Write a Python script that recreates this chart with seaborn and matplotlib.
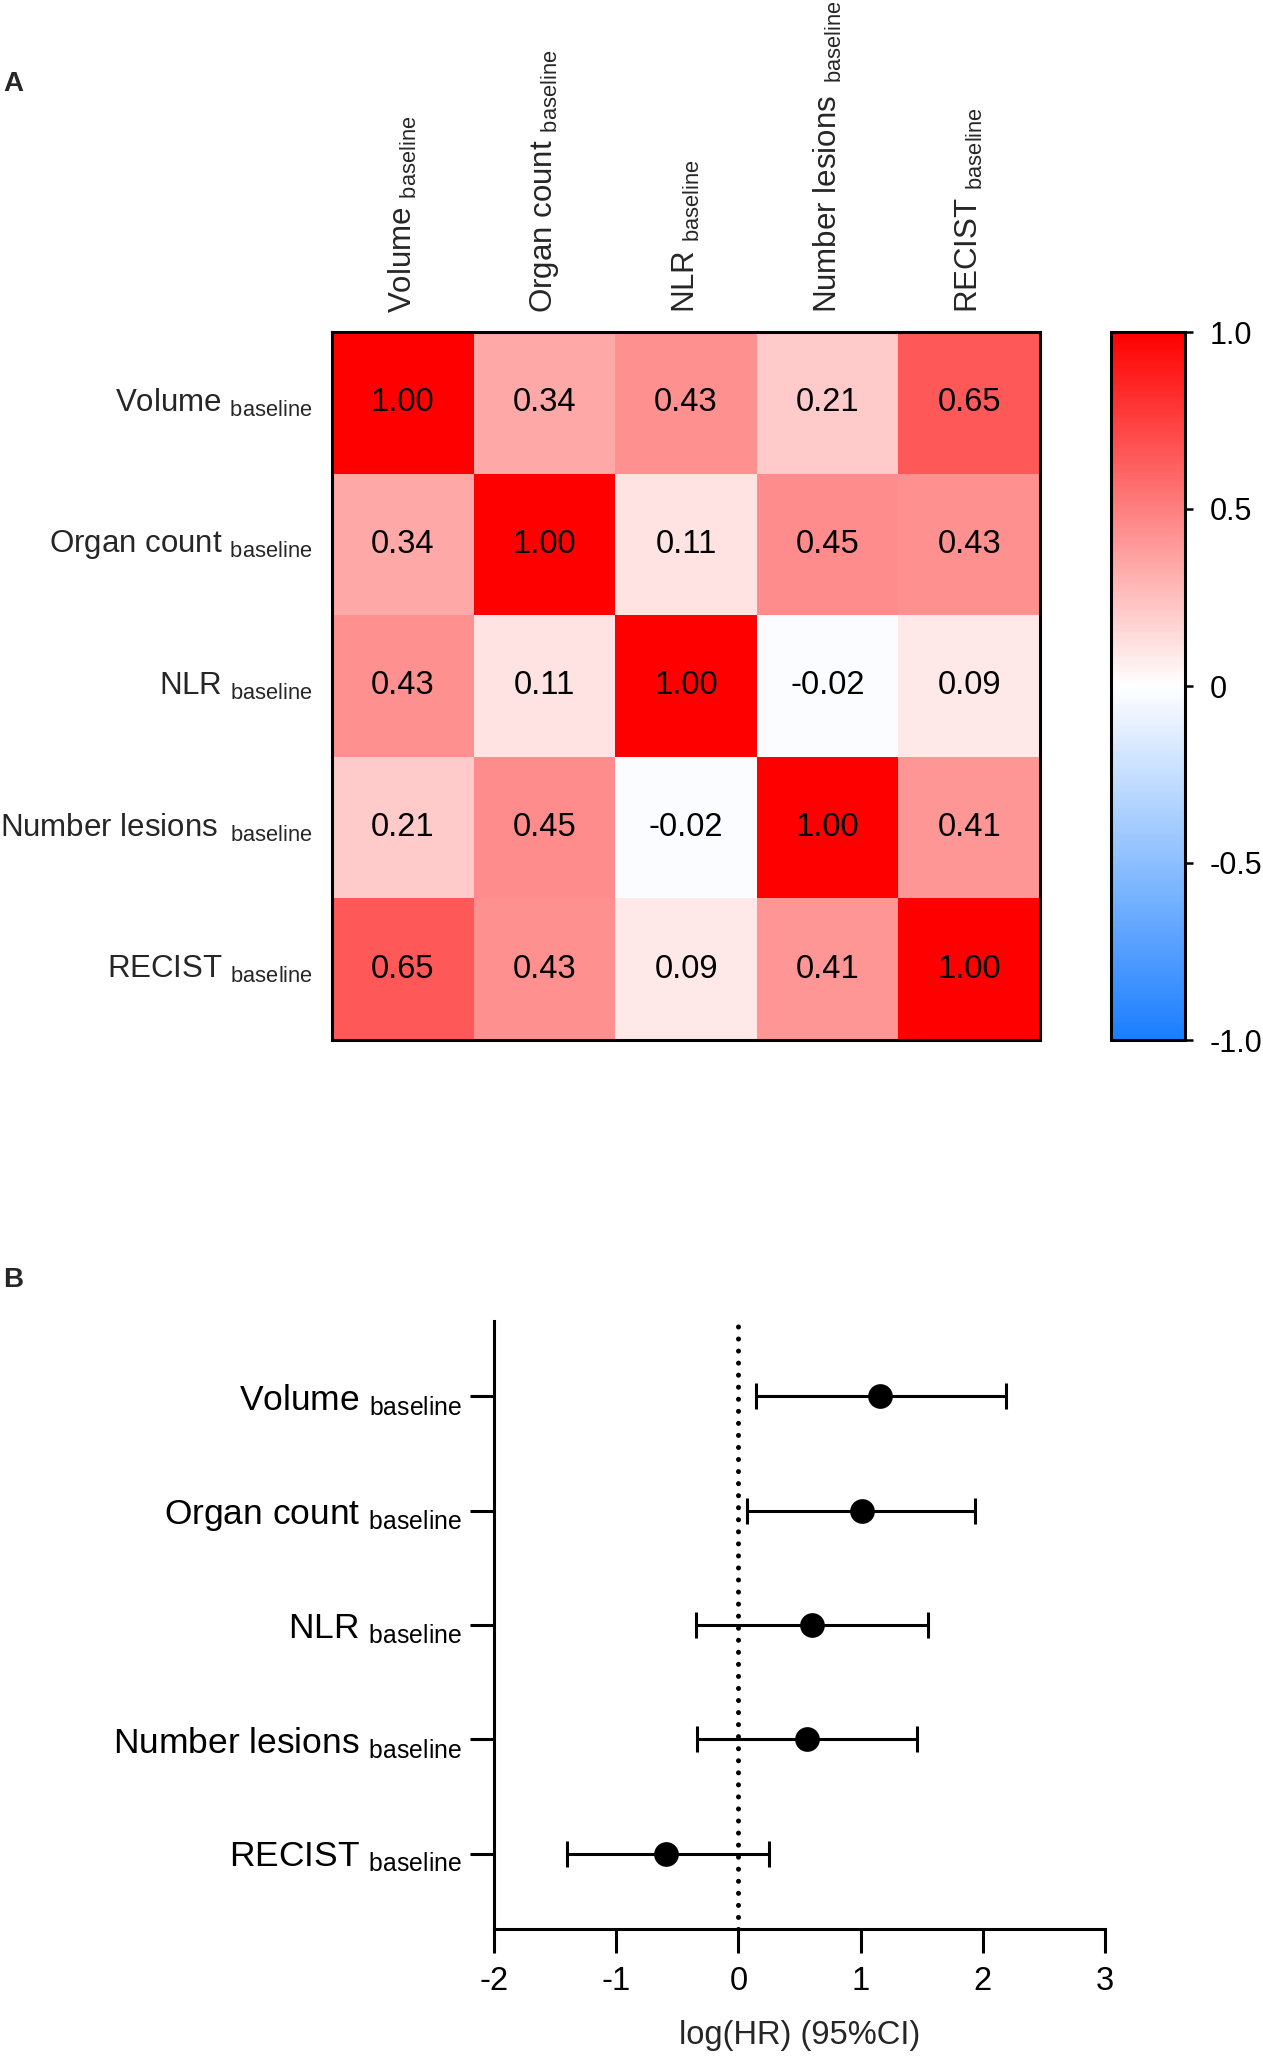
import numpy as np
import pandas as pd
import matplotlib
matplotlib.use("Agg")
import matplotlib.pyplot as plt
from matplotlib.colors import LinearSegmentedColormap
import seaborn as sns

# ---------------- data ----------------
row_names = ["Volume", "Organ count", "NLR", "Number lesions", "RECIST"]
corr_row_volume = [1.00, 0.34, 0.43, 0.21, 0.65]
corr_row_organ = [0.34, 1.00, 0.11, 0.45, 0.43]
corr_row_nlr = [0.43, 0.11, 1.00, -0.02, 0.09]
corr_row_lesions = [0.21, 0.45, -0.02, 1.00, 0.41]
corr_row_recist = [0.65, 0.43, 0.09, 0.41, 1.00]

cbar_ticks = [-1.0, -0.5, 0.0, 0.5, 1.0]
cbar_ticklabels = ["-1.0", "-0.5", "0", "0.5", "1.0"]

forest_names = ["Volume", "Organ count", "NLR", "Number lesions", "RECIST"]
log_hr = [1.16, 1.01, 0.60, 0.56, -0.59]
ci_low = [0.14, 0.07, -0.35, -0.34, -1.40]
ci_high = [2.19, 1.94, 1.55, 1.46, 0.25]
x_ticks = [-2, -1, 0, 1, 2, 3]
x_label = "log(HR) (95%CI)"

# ---------------- style ----------------
sns.set_theme(style="white")
plt.rcParams["font.family"] = ["Liberation Sans", "DejaVu Sans"]
plt.rcParams["mathtext.fontset"] = "custom"
plt.rcParams["mathtext.rm"] = "Liberation Sans"
plt.rcParams["mathtext.it"] = "Liberation Sans:italic"
plt.rcParams["mathtext.bf"] = "Liberation Sans:bold"
plt.rcParams["axes.unicode_minus"] = False

W, H = 1263, 2056
fig = plt.figure(figsize=(W / 100, H / 100), dpi=100)


def box(x0, y0, x1, y1):
    return [x0 / W, 1 - y1 / H, (x1 - x0) / W, (y1 - y0) / H]


def sub_label(name, wide=False):
    gap = r" $\,$" if wide else " "
    return name + gap + r"$_{\mathrm{baseline}}$"


# ---------------- panel A: heatmap ----------------
corr = pd.DataFrame(
    [corr_row_volume, corr_row_organ, corr_row_nlr, corr_row_lesions, corr_row_recist],
    index=row_names, columns=row_names)

cmap = LinearSegmentedColormap.from_list(
    "bwr_custom", ["#1A7EFF", "#FFFFFF", "#FF0000"])

ax = fig.add_axes(box(332, 332, 1040, 1040))
cax = fig.add_axes(box(1111, 332, 1185, 1040))

labels = [sub_label(n, wide=(n == "Number lesions")) for n in row_names]

sns.heatmap(corr, ax=ax, cbar_ax=cax, cmap=cmap, vmin=-1, vmax=1,
            annot=True, fmt=".2f",
            annot_kws={"fontsize": 23.5, "color": "black"},
            xticklabels=labels, yticklabels=labels)

for sp in ax.spines.values():
    sp.set_visible(True)
    sp.set_linewidth(2.2)
    sp.set_color("black")

ax.xaxis.tick_top()
ax.tick_params(axis="both", length=0)
ax.tick_params(axis="y", pad=14)
ax.tick_params(axis="x", pad=14)
plt.setp(ax.get_yticklabels(), rotation=0, fontsize=22.5, ha="right", va="center")
plt.setp(ax.get_xticklabels(), rotation=90, fontsize=22.5, ha="center", va="bottom")
ax.set_xlabel("")
ax.set_ylabel("")

cbar = ax.collections[0].colorbar
cbar.outline.set_linewidth(2.2)
cbar.outline.set_edgecolor("black")
cbar.set_ticks(cbar_ticks)
cbar.set_ticklabels(cbar_ticklabels)
cax.tick_params(axis="y", direction="out", length=6, width=1.8, pad=12,
                labelsize=22, colors="black", right=True, left=False)

fig.text(3 / W, 1 - 84 / H, "A", fontsize=20, fontweight="bold", va="center", ha="left")

# ---------------- panel B: forest plot ----------------
fx = fig.add_axes(box(494, 1321, 1105, 1929))
forest = pd.DataFrame({"name": [sub_label(n) for n in forest_names],
                       "pos": np.arange(len(forest_names)),
                       "hr": log_hr, "lo": ci_low, "hi": ci_high})

fx.axvline(0, color="black", lw=3.6, linestyle=(0, (0.01, 2.4)),
           dash_capstyle="round", zorder=1)
fx.errorbar(forest["hr"], forest["pos"],
            xerr=[forest["hr"] - forest["lo"], forest["hi"] - forest["hr"]],
            fmt="none", ecolor="black", elinewidth=2.2, capsize=9.7,
            capthick=2.2, zorder=2)
sns.scatterplot(data=forest, x="hr", y="pos", ax=fx, s=17.8 ** 2,
                color="black", edgecolor="black", linewidth=0, zorder=3,
                legend=False)

fx.set_xlim(-2, 3)
fx.set_ylim(len(forest_names) - 1 + 0.66, -0.66)
fx.set_xticks(x_ticks)
fx.set_xticklabels([str(t) for t in x_ticks])
fx.set_yticks(forest["pos"])
fx.set_yticklabels(forest["name"])
fx.set_ylabel("")
fx.set_xlabel(x_label, fontsize=23.5, labelpad=16)

for side in ["top", "right"]:
    fx.spines[side].set_visible(False)
for side in ["left", "bottom"]:
    fx.spines[side].set_linewidth(2.2)
    fx.spines[side].set_color("black")

fx.tick_params(axis="both", direction="out", length=17, width=2.2,
               colors="black", left=True, bottom=True)
fx.tick_params(axis="y", labelsize=25.5, pad=6)
fx.tick_params(axis="x", labelsize=23.5, pad=10)

fig.text(3 / W, 1 - 1280 / H, "B", fontsize=20, fontweight="bold", va="center", ha="left")

fig.savefig("out.png", dpi=100)
